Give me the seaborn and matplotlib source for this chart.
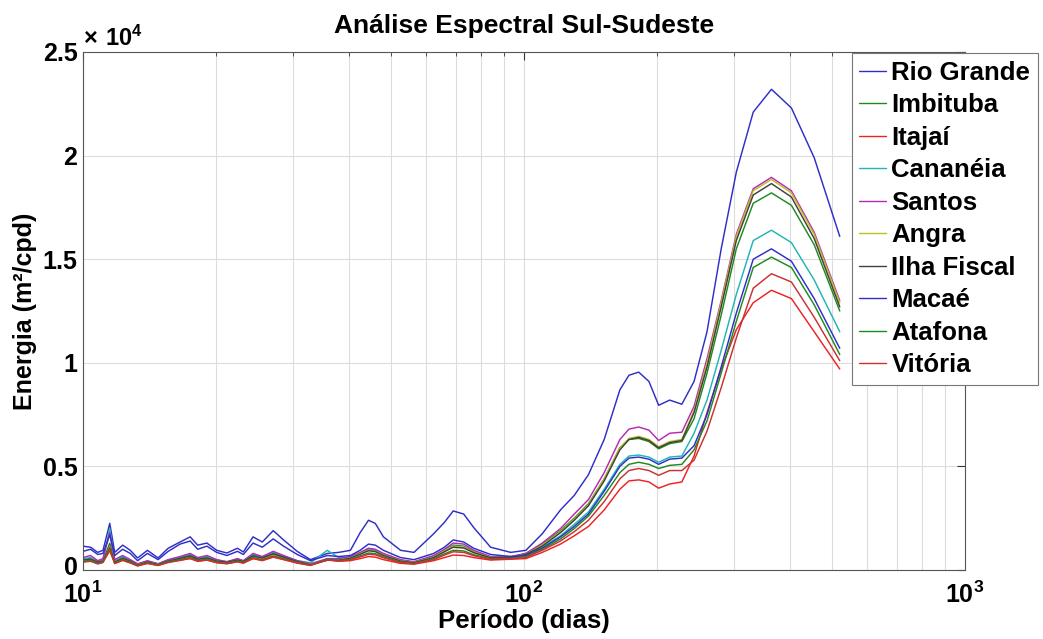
import numpy as np
import pandas as pd
import matplotlib
matplotlib.use("Agg")
import matplotlib.pyplot as plt
import seaborn as sns
from matplotlib.ticker import FixedLocator, NullFormatter
from matplotlib.transforms import ScaledTranslation

# Period grid (days)
periodo = [10, 10.4, 10.8, 11.1, 11.5, 11.8, 12.3, 12.8, 13.3, 14.0,
           14.8, 15.6, 16.6, 17.5, 18.2, 19.1, 20.1, 21.2, 22.4, 23.1,
           24.3, 25.5, 27.0, 28.5, 30.6, 32.8, 35.8, 38, 40.4, 42.5,
           44.4, 46, 48, 52.5, 56.3, 62.4, 66, 69.1, 73, 76.9,
           84, 93.3, 101, 110, 121, 130, 140, 152, 165, 173,
           182, 192, 202, 214, 228, 243, 260, 280, 303, 331,
           364, 404, 455, 520]

# Spectral energy per station (m^2/cpd)
rio_grande = [1150, 1100, 850, 950, 2250, 850, 1200, 950, 580, 950,
              580, 1050, 1350, 1600, 1200, 1300, 950, 820, 1050, 870,
              1600, 1350, 1900, 1450, 900, 500, 800, 850, 950, 1800,
              2400, 2250, 1600, 950, 850, 1750, 2300, 2850, 2700, 2050,
              1100, 850, 950, 1750, 2900, 3600, 4600, 6300, 8700, 9400,
              9550, 9100, 7950, 8200, 8000, 9100, 11500, 15500, 19200, 22100,
              23200, 22300, 19900, 16100]
imbituba = [500, 550, 400, 450, 1300, 400, 600, 450, 250, 400,
            280, 450, 600, 700, 550, 600, 450, 380, 500, 420,
            700, 600, 800, 650, 420, 280, 500, 500, 600, 800,
            1000, 950, 750, 450, 380, 650, 950, 1200, 1150, 900,
            620, 620, 800, 1250, 1900, 2500, 3200, 4400, 5900, 6300,
            6350, 6200, 5850, 6100, 6200, 7300, 9500, 12300, 15500, 17700,
            18200, 17600, 15700, 12500]
itajai = [400, 450, 300, 380, 1100, 320, 480, 350, 200, 320,
          220, 380, 480, 550, 420, 480, 350, 300, 400, 330,
          550, 450, 620, 500, 330, 220, 500, 420, 450, 550,
          650, 620, 500, 320, 280, 450, 600, 720, 700, 600,
          480, 520, 550, 850, 1250, 1650, 2100, 2900, 3900, 4300,
          4350, 4250, 3950, 4150, 4250, 5500, 7600, 9700, 11600, 12900,
          13500, 13100, 11500, 9700]
cananeia = [550, 600, 420, 500, 2000, 450, 650, 480, 280, 420,
            300, 480, 620, 750, 580, 650, 480, 400, 520, 440,
            750, 620, 850, 680, 450, 350, 950, 600, 600, 800,
            1000, 950, 760, 460, 380, 620, 900, 1150, 1100, 850,
            600, 600, 700, 1100, 1650, 2200, 2800, 3900, 5100, 5500,
            5550, 5450, 5200, 5450, 5500, 6600, 8200, 10600, 13300, 15900,
            16400, 15800, 14000, 11500]
santos = [600, 700, 450, 550, 1800, 500, 700, 500, 300, 450,
          300, 500, 650, 800, 600, 700, 500, 400, 550, 450,
          800, 650, 900, 700, 450, 300, 550, 550, 650, 850,
          1050, 1000, 800, 500, 400, 700, 1000, 1300, 1250, 950,
          650, 650, 800, 1300, 2000, 2700, 3400, 4700, 6300, 6800,
          6900, 6750, 6250, 6600, 6650, 7900, 10200, 13000, 16200, 18400,
          18950, 18300, 16300, 13000]
angra = [450, 500, 350, 420, 900, 380, 550, 420, 250, 380,
         270, 420, 550, 650, 500, 560, 420, 360, 470, 400,
         650, 550, 750, 600, 400, 270, 480, 480, 580, 780,
         950, 900, 720, 440, 360, 620, 920, 1150, 1100, 870,
         600, 600, 750, 1200, 1850, 2450, 3150, 4400, 5900, 6350,
         6450, 6300, 5950, 6200, 6300, 7700, 10000, 12900, 16100, 18300,
         18850, 18200, 16200, 12900]
ilha_fiscal = [480, 520, 380, 430, 1000, 380, 560, 430, 240, 390,
               260, 430, 560, 680, 520, 580, 430, 370, 480, 410,
               680, 580, 780, 620, 410, 260, 470, 470, 570, 760,
               930, 890, 700, 430, 350, 600, 880, 1100, 1060, 840,
               590, 590, 750, 1150, 1800, 2400, 3100, 4300, 5800, 6300,
               6400, 6250, 5900, 6150, 6250, 7600, 9800, 12700, 15900, 18100,
               18650, 18000, 16000, 12700]
macae = [900, 1000, 750, 800, 1700, 700, 1000, 800, 450, 800,
         500, 900, 1250, 1400, 1000, 1150, 850, 700, 900, 750,
         1300, 1100, 1500, 1150, 750, 450, 700, 650, 700, 950,
         1250, 1200, 950, 600, 500, 800, 1100, 1450, 1350, 1050,
         750, 650, 700, 1050, 1600, 2100, 2700, 3800, 5000, 5400,
         5450, 5350, 5100, 5350, 5400, 6000, 7500, 9800, 12400, 15000,
         15500, 14900, 13100, 10700]
atafona = [420, 470, 330, 400, 1000, 340, 500, 380, 220, 350,
           240, 400, 500, 600, 460, 520, 390, 330, 430, 370,
           600, 500, 680, 550, 370, 240, 520, 450, 520, 680,
           820, 790, 630, 390, 320, 540, 780, 950, 920, 740,
           540, 560, 650, 1000, 1500, 2000, 2600, 3600, 4700, 5100,
           5200, 5100, 4900, 5050, 5100, 5800, 7200, 9500, 12000, 14600,
           15100, 14600, 12800, 10400]
vitoria = [380, 420, 300, 360, 950, 310, 460, 340, 200, 320,
           220, 360, 460, 560, 430, 480, 360, 310, 400, 340,
           560, 470, 640, 510, 350, 230, 480, 430, 490, 630,
           760, 730, 590, 360, 300, 500, 720, 880, 850, 690,
           510, 540, 600, 950, 1400, 1850, 2400, 3300, 4400, 4800,
           4900, 4800, 4570, 4800, 4800, 5300, 6700, 8800, 11200, 13600,
           14300, 13900, 12200, 10100]

estacoes = ["Rio Grande", "Imbituba", "Itajaí", "Cananéia", "Santos",
            "Angra", "Ilha Fiscal", "Macaé", "Atafona", "Vitória"]
series = [rio_grande, imbituba, itajai, cananeia, santos,
          angra, ilha_fiscal, macae, atafona, vitoria]

# MATLAB-like line colour cycle
cores = ["#2f2fc8", "#1f8a1f", "#ee2222", "#22b5b5", "#b52ab5",
         "#bfbf22", "#404040", "#2f2fc8", "#1f8a1f", "#cc3030"]

df = pd.DataFrame({
    "periodo": np.tile(periodo, len(estacoes)),
    "energia": np.concatenate([np.asarray(s, float) for s in series]),
    "estacao": np.repeat(estacoes, len(periodo)),
})

sns.set_style("white")
plt.rcParams["font.family"] = ["Liberation Sans", "DejaVu Sans"]
plt.rcParams["font.weight"] = "bold"
plt.rcParams["text.color"] = "black"
plt.rcParams["axes.labelcolor"] = "black"
plt.rcParams["mathtext.fontset"] = "custom"
plt.rcParams["mathtext.rm"] = "Liberation Sans:bold"
plt.rcParams["mathtext.bf"] = "Liberation Sans:bold"
plt.rcParams["mathtext.default"] = "bf"

fig = plt.figure(figsize=(10.43, 6.39), dpi=100)
ax = fig.add_axes([83 / 1043, 1 - 570 / 639, (965 - 83) / 1043, (570 - 52) / 639])

sns.lineplot(data=df, x="periodo", y="energia", hue="estacao",
             hue_order=estacoes, palette=cores, estimator=None, sort=False,
             linewidth=1.05, ax=ax, legend=False)

ax.set_xscale("log")
ax.set_xlim(10, 1000)
ax.set_ylim(0, 25000)

# ticks and grid
ax.xaxis.set_major_locator(FixedLocator([10, 100, 1000]))
minors = [m * d for d in (10, 100) for m in range(2, 10)]
ax.xaxis.set_minor_locator(FixedLocator(minors))
ax.xaxis.set_minor_formatter(NullFormatter())
ax.set_xticklabels([r"$10^{1}$", r"$10^{2}$", r"$10^{3}$"])
yt = [0, 5000, 10000, 15000, 20000, 25000]
ax.set_yticks(yt)
ax.set_yticklabels(["0", "0.5", "1", "1.5", "2", "2.5"])
ax.tick_params(axis="both", which="both", direction="in", top=True, right=True,
               labelsize=18, colors="#333333", labelcolor="black")
ax.tick_params(axis="both", which="major", length=6)
ax.tick_params(axis="y", which="major", pad=4)
ax.tick_params(axis="x", which="major", pad=8)
ax.tick_params(axis="x", which="minor", length=3)
ax.grid(True, which="both", axis="x", color="#dcdcdc", linewidth=0.8)
ax.grid(True, which="major", axis="y", color="#dcdcdc", linewidth=0.8)
for s in ax.spines.values():
    s.set_color("#555555")
    s.set_linewidth(0.8)

# keep the "0" label just above the 10^1 label beneath it
zero_lbl = ax.get_yticklabels()[0]
zero_lbl.set_verticalalignment("bottom")
zero_lbl.set_transform(zero_lbl.get_transform()
                       + ScaledTranslation(0, -10 / 100, fig.dpi_scale_trans))

ax.text(0.0, 1.003, r"$\times\ 10^{4}$", transform=ax.transAxes, fontsize=17,
        ha="left", va="bottom")

ax.set_title("Análise Espectral Sul-Sudeste", fontsize=19, fontweight="bold", pad=14)
ax.set_xlabel("Período (dias)", fontsize=18.5, fontweight="bold", labelpad=1)
ax.set_ylabel("Energia (m²/cpd)", fontsize=18, fontweight="bold", labelpad=4)

handles = [plt.Line2D([], [], color=c, linewidth=1.0) for c in cores]
leg = fig.legend(handles, estacoes, loc="upper right",
                 bbox_to_anchor=(1038 / 1043, 1 - 53 / 639),
                 frameon=True, fancybox=False, framealpha=1, edgecolor="#777777",
                 prop={"size": 18.5, "weight": "bold"}, handlelength=1.05,
                 handletextpad=0.2, labelspacing=0.33, borderpad=0.3,
                 borderaxespad=0)
leg.get_frame().set_linewidth(0.8)

fig.savefig("out.png", dpi=100, facecolor="white")
